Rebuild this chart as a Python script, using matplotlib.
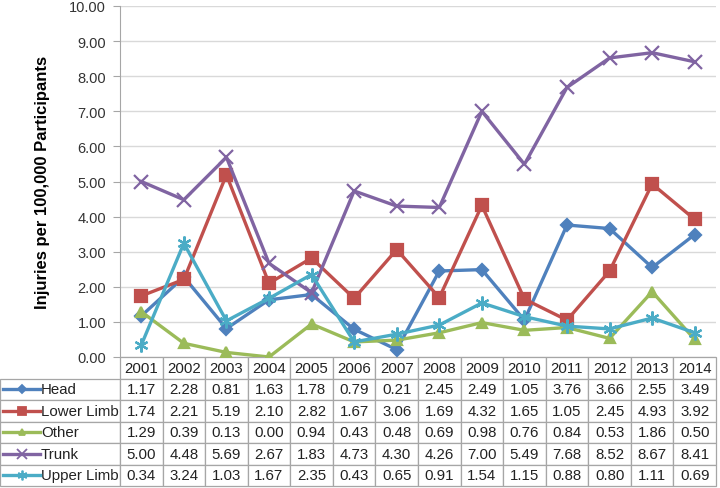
import matplotlib.pyplot as plt

plt.rcParams['font.family'] = ['Liberation Sans', 'DejaVu Sans']

years = [str(y) for y in range(2001, 2015)]
series = ['Head', 'Lower Limb', 'Other', 'Trunk', 'Upper Limb']
head = [1.17, 2.28, 0.81, 1.63, 1.78, 0.79, 0.21, 2.45, 2.49, 1.05, 3.76, 3.66, 2.55, 3.49]
lower_limb = [1.74, 2.21, 5.19, 2.10, 2.82, 1.67, 3.06, 1.69, 4.32, 1.65, 1.05, 2.45, 4.93, 3.92]
other = [1.29, 0.39, 0.13, 0.00, 0.94, 0.43, 0.48, 0.69, 0.98, 0.76, 0.84, 0.53, 1.86, 0.50]
trunk = [5.00, 4.48, 5.69, 2.67, 1.83, 4.73, 4.30, 4.26, 7.00, 5.49, 7.68, 8.52, 8.67, 8.41]
upper_limb = [0.34, 3.24, 1.03, 1.67, 2.35, 0.43, 0.65, 0.91, 1.54, 1.15, 0.88, 0.80, 1.11, 0.69]

data = [head, lower_limb, other, trunk, upper_limb]
colors = ['#4F81BD', '#C0504D', '#9BBB59', '#8064A2', '#4BACC6']
markers = ['D', 's', '^', 'x', (6, 2, 0)]
msizes = [6, 8, 7, 10, 10]

W, H = 720, 489
fig = plt.figure(figsize=(W / 100, H / 100), dpi=100)
ax = fig.add_axes([120 / W, 1 - 358 / H, 596 / W, 351 / H])

xs = [i + 0.5 for i in range(len(years))]
for vals, c, m, ms in zip(data, colors, markers, msizes):
    ax.plot(xs, vals, color=c, lw=2.4, marker=m, ms=ms, mew=1.6, mec=c, mfc=c, zorder=3)

ax.set_xlim(0, len(years))
ax.set_ylim(0, 10)
ax.set_yticks(range(0, 11))
ax.set_yticklabels(['%.2f' % v for v in range(0, 11)], fontsize=10.5, color='#333333')
ax.set_xticks([])
ax.grid(axis='y', color='#d9d9d9', lw=1)
ax.set_axisbelow(True)
for s in ['top', 'right', 'bottom']:
    ax.spines[s].set_visible(False)
ax.spines['left'].set_color('#a6a6a6')
ax.tick_params(axis='y', length=5, color='#a6a6a6', pad=5)
ax.set_ylabel('Injuries per 100,000 Participants', fontsize=12, fontweight='bold', labelpad=14)

# data table under the plot (first column holds the series names)
cell_text = [[name] + ['%.2f' % v for v in vals] for name, vals in zip(series, data)]
tab_h = (487 - 358) / 351
lab_w = 120 / 596
tbl = ax.table(cellText=cell_text, colLabels=[''] + years,
               colWidths=[lab_w] + [1 / 14] * 14, cellLoc='center',
               bbox=[-lab_w, -tab_h, 1 + lab_w, tab_h])
tbl.auto_set_font_size(False)
for (r, c), cell in tbl.get_celld().items():
    cell.set_edgecolor('#a6a6a6')
    cell.set_linewidth(0.9)
    cell.get_text().set_fontsize(10.8)
    cell.get_text().set_color('#222222')
    if c == 0:
        cell._loc = 'left'
        cell.get_text().set_ha('left')
        cell.PAD = 41 / 120
        if r == 0:
            cell.set_visible(False)

# legend keys in the row label cells
nrows = len(series) + 1
for i, (c, m, ms) in enumerate(zip(colors, markers, msizes)):
    y = -tab_h + tab_h * (1 - (i + 1.5) / nrows)
    x0 = -lab_w + 3 / 596
    x1 = -lab_w + 40 / 596
    ax.plot([x0, x1], [y, y], color=c, lw=2.4, transform=ax.transAxes, clip_on=False)
    ax.plot([(x0 + x1) / 2], [y], color=c, marker=m, ms=ms * 0.7, mew=1.3,
            transform=ax.transAxes, clip_on=False)

fig.savefig('out.png', dpi=100)
